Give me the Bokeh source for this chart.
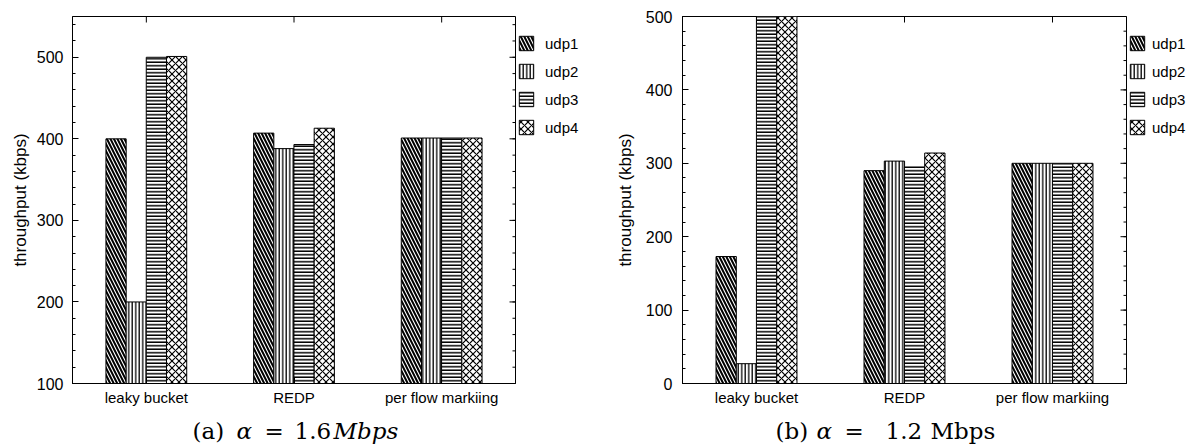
import math
from bokeh.plotting import figure
from bokeh.models import (FactorRange, Range1d, Legend, LegendItem, FixedTicker,
                          ColumnDataSource)
from bokeh.core.properties import value
from bokeh.transform import dodge
from bokeh.layouts import row, column
from bokeh.embed import file_html
from bokeh.resources import INLINE

categories = ["leaky bucket", "REDP", "per flow markiing"]
series_names = ["udp1", "udp2", "udp3", "udp4"]

# (a) alpha = 1.6 Mbps
a_udp1 = [400, 407, 401]
a_udp2 = [200, 388, 401]
a_udp3 = [500, 393, 401]
a_udp4 = [501, 413, 401]
a_yticks = [100, 200, 300, 400, 500]
a_yminor = list(range(100, 551, 20))

# (b) alpha = 1.2 Mbps
b_udp1 = [173, 290, 300]
b_udp2 = [27, 303, 300]
b_udp3 = [500, 295, 300]
b_udp4 = [500, 314, 300]
b_yticks = [0, 100, 200, 300, 400, 500]
b_yminor = list(range(0, 501, 20))

cap_a_text = ["(a)", "α", "=", "1.6", "Mbps"]
cap_a_italic = [False, True, False, False, True]
cap_b_text = ["(b)", "α", "=", "1.2", "Mbps"]
cap_b_italic = [False, True, False, False, False]

SANS = "Liberation Sans"
SERIF = "DejaVu Serif"

styles = [
    dict(hatch_pattern="\\", hatch_scale=7, hatch_weight=2.0),
    dict(hatch_pattern="|", hatch_scale=3.5, hatch_weight=1.3),
    dict(hatch_pattern="-", hatch_scale=3.5, hatch_weight=1.5),
    dict(hatch_pattern="x", hatch_scale=7, hatch_weight=1.2),
]
offsets = [-0.205, -0.068, 0.068, 0.205]
CHART_H = 413


def style_axis(ax, fs):
    ax.axis_line_color = "black"
    ax.major_tick_in = 6
    ax.major_tick_out = 0
    ax.minor_tick_in = 3
    ax.minor_tick_out = 0
    ax.major_tick_line_color = "black"
    ax.minor_tick_line_color = "black"
    ax.major_label_text_font = SANS
    ax.major_label_text_font_size = fs
    ax.major_label_text_color = "black"


def blank(width, height, xr, yr):
    f = figure(width=width, height=height, x_range=xr, y_range=yr, min_border=0,
               title=None, output_backend="svg", toolbar_location=None)
    f.axis.visible = False
    f.grid.visible = False
    f.outline_line_color = None
    f.border_fill_color = "white"
    return f


def make_chart(series, y0, y1, yticks, yminor, width, left, tick_standoff, title_standoff):
    p = figure(x_range=FactorRange(*categories, range_padding=0), y_range=Range1d(y0, y1),
               width=width, height=CHART_H, min_border_left=left, min_border_right=2,
               min_border_top=16, min_border_bottom=30,
               output_backend="svg", toolbar_location=None)
    p.xgrid.visible = False
    p.ygrid.visible = False
    p.outline_line_color = "black"
    p.background_fill_color = "white"
    p.border_fill_color = "white"

    src = ColumnDataSource(dict(cat=categories, udp1=series[0], udp2=series[1],
                                udp3=series[2], udp4=series[3]))
    for name, off, st in zip(series_names, offsets, styles):
        p.vbar(x=dodge("cat", off, range=p.x_range), top=name, bottom=y0 - 50, width=0.137,
               source=src, fill_color="white", line_color="black", line_width=1,
               hatch_color="black", **st)

    ticker = FixedTicker(ticks=yticks, minor_ticks=yminor)
    p.yaxis.ticker = ticker
    style_axis(p.yaxis[0], "16px")
    p.yaxis.major_label_standoff = tick_standoff
    p.yaxis.axis_label = "throughput (kbps)"
    p.yaxis.axis_label_text_font = SANS
    p.yaxis.axis_label_text_font_size = "17px"
    p.yaxis.axis_label_text_font_style = "normal"
    p.yaxis.axis_label_text_color = "black"
    p.yaxis.axis_label_standoff = title_standoff

    style_axis(p.xaxis[0], "15px")
    p.xaxis.major_label_standoff = 5

    # mirrored inward ticks on the right and top edges (half-dashes clipped by the frame)
    n_cat = len(categories)
    p.scatter(x=[n_cat] * len(yticks), y=yticks, marker="dash", size=12,
              line_color="black", line_width=1)
    p.scatter(x=[n_cat] * len(yminor), y=yminor, marker="dash", size=6,
              line_color="black", line_width=1)
    p.scatter(x=[i + 0.5 for i in range(n_cat)], y=[y1] * n_cat, marker="dash", size=12,
              angle=math.pi / 2, line_color="black", line_width=1)
    return p


def make_legend(width, label_standoff):
    f = blank(width, CHART_H, Range1d(0, 1), Range1d(0, 1))
    # one bar placed outside the visible range so only the legend swatch shows
    hidden = ColumnDataSource(dict(x=[5], top=[5]))
    items = []
    for name, st in zip(series_names, styles):
        r = f.vbar(x="x", top="top", width=0.1, source=hidden, fill_color="white",
                   line_color="black", line_width=1, hatch_color="black", **st)
        items.append(LegendItem(label=name, renderers=[r]))
    legend = Legend(items=items, location=(0, CHART_H - 166), padding=2, spacing=10, margin=0,
                    glyph_width=18, glyph_height=18, label_height=18,
                    label_standoff=label_standoff,
                    label_text_font=SANS, label_text_font_size="15px",
                    label_text_color="black",
                    border_line_color=None, background_fill_alpha=0)
    f.add_layout(legend)
    return f


def make_caption(width, texts, italics, xs):
    f = blank(width, 32, Range1d(0, width), Range1d(0, 32))
    for txt, it, x in zip(texts, italics, xs):
        f.text(x=[x], y=[15], text=[txt], text_font=value(SERIF), text_font_size="23px",
               text_font_style="italic" if it else "normal",
               text_baseline="middle", text_align="left", text_color="black")
    return f


pa = make_chart([a_udp1, a_udp2, a_udp3, a_udp4], 100, 550, a_yticks, a_yminor,
                width=517, left=72, tick_standoff=9, title_standoff=4)
la = make_legend(68, 10)
pb = make_chart([b_udp1, b_udp2, b_udp3, b_udp4], 0, 500, b_yticks, b_yminor,
                width=543, left=97, tick_standoff=10, title_standoff=8)
lb = make_legend(65, 6)
ca = make_caption(585, cap_a_text, cap_a_italic, [192, 236, 264, 294, 333])
cb = make_caption(608, cap_b_text, cap_b_italic, [190, 231, 259, 300, 345])

layout = row(column(row(pa, la), ca), column(row(pb, lb), cb))
open("out.html", "w").write(file_html(layout, INLINE))
